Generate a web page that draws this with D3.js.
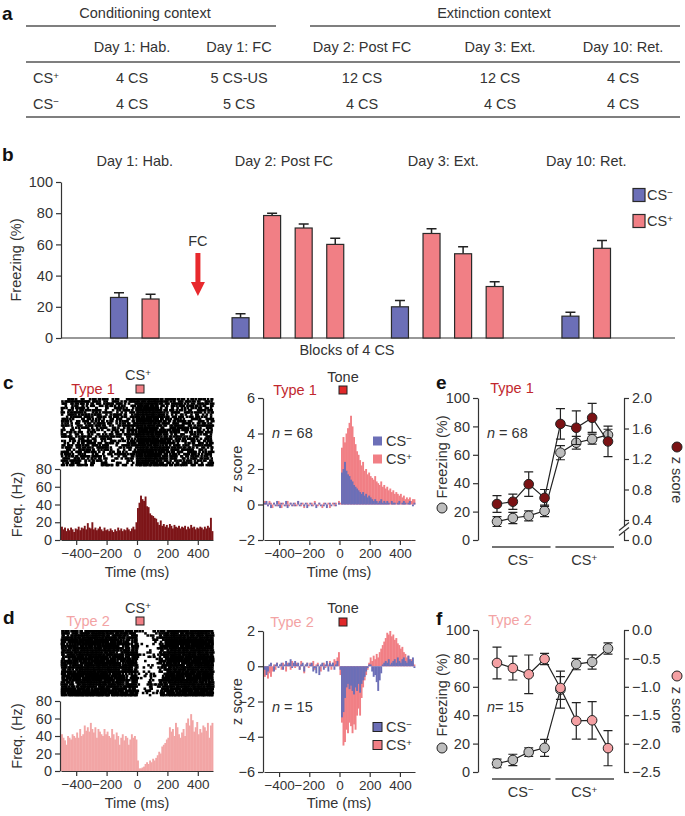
<!DOCTYPE html>
<html>
<head>
<meta charset="utf-8">
<script src="https://cdn.jsdelivr.net/npm/d3@7"></script>
<style>
  body { margin: 0; background: #fff; }
  svg text { font-family: "Liberation Sans", Arial, Helvetica, sans-serif; fill: #333; }
</style>
</head>
<body>
<div id="chart"></div>
<script>
// DATA

// a: protocol table
var tableDays = ["Day 1: Hab.", "Day 1: FC", "Day 2: Post FC", "Day 3: Ext.", "Day 10: Ret."];
var tableCSplus = ["4 CS", "5 CS-US", "12 CS", "12 CS", "4 CS"];
var tableCSminus = ["4 CS", "5 CS", "4 CS", "4 CS", "4 CS"];

// b: freezing per block of 4 CS
var bDays = ["Day 1: Hab.", "Day 2: Post FC", "Day 3: Ext.", "Day 10: Ret."];
var bMinus = [26, 13, 20, 14];
var bMinusErr = [3, 2.5, 4, 2.5];
var bPlus = [[25], [78.5, 70.5, 60], [67, 54, 33], [57.5]];
var bPlusErr = [[3], [1.5, 2.5, 4], [3, 4.5, 3], [5]];

// c, d: PSTH (Hz), 10 ms bins from -500 ms
var psthType1 = [
  15, 12, 14, 10, 13, 11, 14, 12, 9, 13,
  12, 15, 11, 14, 13, 16, 12, 19, 14, 13,
  20, 12, 14, 11, 13, 15, 12, 10, 14, 11,
  12, 10, 13, 11, 9, 12, 10, 14, 11, 13,
  10, 12, 11, 14, 12, 10, 13, 15, 12, 20,
  36, 42, 50, 46, 44, 49, 38, 37, 30, 28,
  27, 25, 24, 20, 17, 22, 16, 18, 15, 17,
  14, 18, 16, 13, 17, 15, 14, 16, 13, 15,
  14, 16, 12, 15, 13, 17, 14, 15, 12, 14,
  13, 15, 14, 12, 15, 13, 16, 14, 25, 10
];
var psthType2 = [
  42, 38, 35, 30, 40, 38, 36, 42, 40, 38,
  44, 38, 48, 40, 42, 52, 46, 50, 45, 55,
  48, 44, 50, 38, 48, 45, 42, 40, 48, 42,
  45, 40, 38, 48, 42, 36, 44, 40, 30, 38,
  42, 35, 40, 38, 30, 36, 42, 38, 40, 36,
  12, 3, 3, 4, 5, 8, 10, 8, 12, 10,
  14, 12, 15, 18, 22, 20, 28, 30, 32, 36,
  38, 50, 45, 48, 40, 55, 50, 42, 38, 44,
  48, 40, 55, 60, 52, 65, 58, 45, 50, 56,
  42, 48, 44, 52, 50, 46, 55, 38, 52, 55
];

// c, d: population z score, 10 ms bins from -500 ms
var zType1Plus = [
  0.2, 0.1, -0.1, 0.2, 0.1, -0.2, 0.1, 0.0, -0.1, 0.2,
  0.1, -0.2, 0.1, 0.0, -0.1, 0.2, -0.1, 0.1, 0.0, -0.1,
  0.1, -0.1, 0.2, 0.0, -0.1, 0.1, -0.2, 0.0, 0.1, -0.1,
  0.0, 0.1, -0.1, 0.2, 0.0, -0.1, 0.1, 0.0, -0.2, 0.1,
  0.0, -0.1, 0.1, -0.2, 0.0, 0.1, -0.1, 0.1, 0.0, 0.2,
  0.1, 3.2, 3.8, 3.5, 4.0, 4.3, 4.6, 5.0, 4.4, 3.8,
  3.4, 3.0, 2.8, 2.5, 2.2, 2.4, 1.9, 2.0, 1.7, 1.8,
  1.6, 1.5, 1.4, 1.6, 1.3, 1.2, 1.1, 1.3, 1.0, 1.1,
  0.9, 1.0, 0.8, 0.9, 0.7, 0.8, 0.6, 0.7, 0.6, 0.5,
  0.6, 0.4, 0.5, 0.3, 0.4, 0.3, 0.4, 0.2, 0.3, 0.3
];
var zType1Minus = [
  0.1, 0.2, -0.1, 0.1, -0.2, 0.0, 0.1, -0.1, 0.2, -0.1,
  -0.2, 0.1, 0.0, -0.1, 0.2, -0.2, 0.0, 0.1, -0.1, 0.1,
  -0.1, 0.0, 0.2, -0.1, 0.1, 0.0, -0.1, 0.1, -0.2, 0.0,
  0.1, -0.1, 0.0, 0.1, -0.2, 0.0, 0.1, -0.1, 0.0, -0.1,
  0.1, -0.2, 0.0, 0.1, -0.1, 0.0, 0.1, -0.1, 0.0, 0.1,
  0.0, 1.8, 2.0, 2.4, 1.9, 1.7, 1.6, 1.4, 1.3, 1.1,
  1.0, 0.9, 0.8, 0.7, 0.6, 0.7, 0.5, 0.6, 0.4, 0.5,
  0.4, 0.3, 0.2, 0.3, 0.2, 0.1, 0.2, 0.3, 0.1, 0.2,
  0.1, 0.2, 0.1, 0.0, 0.2, 0.1, 0.1, 0.0, 0.1, 0.2,
  0.0, 0.1, 0.2, 0.1, 0.0, 0.1, 0.2, 0.0, -0.1, 0.1
];
var zType2Plus = [
  -0.6, -0.5, -0.7, -0.4, -0.6, -0.3, 0.1, -0.2, 0.2, 0.0,
  0.1, -0.2, 0.2, 0.0, -0.3, 0.2, 0.1, -0.2, 0.3, 0.1,
  -0.1, 0.2, 0.1, -0.2, 0.3, 0.0, -0.4, 0.1, 0.2, -0.1,
  0.2, 0.1, 0.3, -0.2, 0.1, 0.2, 0.0, -0.3, 0.1, 0.2,
  -0.1, 0.2, 0.1, 0.3, -0.2, 0.2, 0.4, 0.3, 0.5, 0.8,
  -0.5, -3.2, -4.5, -4.3, -3.6, -3.8, -3.2, -3.4, -3.8, -3.3,
  -3.6, -2.8, -2.4, -2.8, -1.8, -1.2, -0.8, -0.5, -0.2, 0.2,
  0.5, 0.3, 0.6, 0.4, 0.7, 0.5, 0.8, 1.0, 1.2, 1.4,
  1.6, 1.9, 1.8, 2.0, 1.7, 1.8, 1.5, 1.6, 1.3, 1.2,
  1.0, 1.1, 0.8, 0.7, 0.5, 0.6, 0.3, 0.4, 0.2, 0.1
];
var zType2Minus = [
  -0.2, -0.5, -0.3, 0.1, 0.2, 0.0, -0.3, 0.1, 0.2, -0.1,
  0.1, 0.2, -0.2, 0.1, 0.3, 0.1, 0.2, 0.4, -0.1, 0.2,
  0.3, 0.1, 0.2, -0.2, 0.1, 0.2, -0.3, 0.1, 0.2, 0.0,
  0.1, 0.2, -0.3, -0.1, -0.4, 0.1, -0.5, 0.1, 0.2, -0.2,
  0.1, 0.3, -0.3, 0.2, 0.1, 0.2, -0.2, 0.1, 0.3, 0.0,
  -0.2, -2.9, -2.6, -1.8, -1.2, -1.0, -1.3, -1.1, -1.4, -1.6,
  -1.2, -1.4, -1.0, -1.5, -1.0, -0.8, -0.6, -0.3, -0.1, 0.1,
  0.1, -0.3, -0.6, -0.5, -0.9, -1.4, -0.8, -0.4, 0.1, 0.2,
  0.3, 0.2, 0.4, 0.1, 0.2, 0.3, 0.4, 0.2, 0.5, 0.3,
  0.2, 0.4, 0.5, 0.3, 0.2, 0.6, 0.4, 0.3, 0.5, -0.1
];

// e, f: freezing and z score per block (4 CS-, 4 CS+)
var eFreeze = [13, 15.5, 17, 20.5, 61.5, 68.5, 71, 74];
var eFreezeErr = [3.5, 4, 3.5, 4, 5, 4.5, 3.5, 4];
var eZ = [0.61, 0.64, 0.87, 0.69, 1.66, 1.61, 1.74, 1.43];
var eZErr = [0.11, 0.1, 0.16, 0.11, 0.2, 0.22, 0.19, 0.2];
var fFreeze = [6, 8.5, 14, 17, 58, 76, 77.5, 87];
var fFreezeErr = [3, 4, 3, 6, 13, 4, 5, 4];
var fZ = [-0.58, -0.67, -0.78, -0.51, -1.02, -1.6, -1.59, -2.08];
var fZErr = [0.28, 0.21, 0.34, 0.1, 0.2, 0.32, 0.33, 0.31];

var timeTicks = [-400, -200, 0, 200, 400];
var binStarts = d3.range(-500, 500, 10);

// COLOURS
var blue = "#6c6fb7",
  pink = "#f17f85",
  type1Red = "#c1272d",
  type2Pink = "#f3a3a4",
  psth1Col = "#7d1518",
  psth2Col = "#f2a5a5",
  toneRed = "#e0282a",
  greyDot = "#bdbdbd",
  darkDot = "#7a1214",
  pinkDot = "#f4a0a3",
  ink = "#333";

var FS = 14.5;

// FUNCTIONS

var svg = d3.select("#chart").append("svg").attr("width", 685).attr("height", 816);

function styleAxis(g, size) {
  g.attr("font-size", size || FS)
    .attr("font-family", "Liberation Sans, Arial, sans-serif")
    .attr("color", ink);
  g.selectAll("path, line").attr("stroke-width", 1.2);
}

function label(x, y, str, opts) {
  opts = opts || {};
  var t = svg.append("text")
    .attr("x", x)
    .attr("y", y)
    .attr("dy", "0.35em")
    .attr("font-size", opts.size || FS)
    .attr("text-anchor", opts.anchor || "middle")
    .text(str);
  if (opts.bold) t.attr("font-weight", "bold");
  if (opts.color) t.style("fill", opts.color);
  if (opts.rotate) t.attr("transform", "rotate(" + opts.rotate + "," + x + "," + y + ")");
  return t;
}

function csLabel(x, y, sign, opts) {
  opts = opts || {};
  var t = svg.append("text")
    .attr("x", x)
    .attr("y", y)
    .attr("dy", "0.35em")
    .attr("font-size", opts.size || FS)
    .attr("text-anchor", opts.anchor || "middle");
  t.append("tspan").text("CS");
  t.append("tspan").attr("dy", "-0.45em").attr("font-size", "0.68em").text(sign);
  return t;
}

function panelLetter(x, y, s) {
  label(x, y, s, { size: 19, bold: true, anchor: "start" }).style("fill", "#111");
}

// integer hash, used only to scatter raster ticks inside a bin
function scatter(a, b) {
  var h = Math.imul(a, 374761393) + Math.imul(b, 668265263);
  h = Math.imul(h ^ (h >>> 13), 1274126177);
  h ^= h >>> 16;
  return (h >>> 0) / 4294967296;
}

// a: table
panelLetter(2, 13, "a");
var colX = [132, 239, 362, 500, 623];
label(145, 13, "Conditioning context");
label(494, 13, "Extinction context");
var rule = function (x1, x2, y) {
  svg.append("line").attr("x1", x1).attr("x2", x2).attr("y1", y).attr("y2", y)
    .attr("stroke", "#555").attr("stroke-width", 1.5);
};
rule(26, 276, 26);
rule(310, 680, 26);
rule(26, 680, 62);
rule(26, 680, 117);
tableDays.forEach(function (d, i) {
  label(colX[i], 47, d);
  label(colX[i], 78, tableCSplus[i]);
  label(colX[i], 104, tableCSminus[i]);
});
csLabel(33, 78, "+", { anchor: "start" });
csLabel(33, 104, "\u2212", { anchor: "start" });

// b: bar chart
panelLetter(2, 154, "b");
var yB = d3.scaleLinear().domain([0, 100]).range([338, 182]);
var xB = d3.scaleLinear().domain([0, 15.3]).range([119, 602]);
var groupStart = [0, 3.85, 8.9, 14.3];
var barW = 17;

var gB = svg.append("g");
gB.append("g")
  .attr("transform", "translate(61,0)")
  .call(d3.axisLeft(yB).tickValues([0, 20, 40, 60, 80, 100]).tickSize(5).tickSizeOuter(0))
  .call(styleAxis);
gB.append("line").attr("x1", 61).attr("x2", 675).attr("y1", yB(0)).attr("y2", yB(0))
  .attr("stroke", ink).attr("stroke-width", 1.2);
label(16, 260, "Freezing (%)", { rotate: -90 });
label(347, 350, "Blocks of 4 CS");

var bBars = [];
bDays.forEach(function (day, i) {
  bBars.push({ pos: groupStart[i], v: bMinus[i], e: bMinusErr[i], c: blue });
  bPlus[i].forEach(function (v, j) {
    bBars.push({ pos: groupStart[i] + 1 + j, v: v, e: bPlusErr[i][j], c: pink });
  });
  var last = groupStart[i] + bPlus[i].length;
  label((xB(groupStart[i]) + xB(last)) / 2 - (bPlus[i].length > 1 ? 4 : 0), 161, day);
});

gB.selectAll(".errb").data(bBars).enter().append("path")
  .attr("d", function (d) {
    var x = xB(d.pos);
    return "M" + x + "," + yB(d.v) + "V" + yB(d.v + d.e) + "M" + (x - 5) + "," + yB(d.v + d.e) + "H" + (x + 5);
  })
  .attr("stroke", "#222").attr("stroke-width", 1.5).attr("fill", "none");
gB.selectAll(".bar").data(bBars).enter().append("rect")
  .attr("x", function (d) { return xB(d.pos) - barW / 2; })
  .attr("y", function (d) { return yB(d.v); })
  .attr("width", barW)
  .attr("height", function (d) { return yB(0) - yB(d.v); })
  .attr("fill", function (d) { return d.c; })
  .attr("stroke", "#2a2a2a").attr("stroke-width", 1.2);

// FC arrow
var fcX = xB(2.5);
label(fcX, 241, "FC");
svg.append("path")
  .attr("d", "M" + (fcX - 2.5) + ",253H" + (fcX + 2.5) + "V282H" + (fcX + 7) + "L" + fcX + ",296L" + (fcX - 7) + ",282H" + (fcX - 2.5) + "Z")
  .attr("fill", "#e8292d");

// legend b
[[blue, "\u2212", 195], [pink, "+", 221]].forEach(function (l) {
  svg.append("rect").attr("x", 633).attr("y", l[2] - 6.5).attr("width", 12).attr("height", 13)
    .attr("fill", l[0]).attr("stroke", "#2a2a2a").attr("stroke-width", 1.2);
  csLabel(647, l[2], l[1], { anchor: "start" });
});

// c, d left: raster + PSTH
function drawUnit(o) {
  var x = d3.scaleLinear().domain([-500, 500]).range([61, 213]);
  var y = d3.scaleLinear().domain([0, 80]).range([o.psthBottom, o.psthTop]);
  var binW = x(10) - x(0);

  label(o.typeX, o.typeY, o.typeText, { color: o.typeColor });
  csLabel(138, o.csY, "+");
  svg.append("rect").attr("x", 136).attr("y", o.typeY - 4).attr("width", 8).attr("height", 8)
    .attr("fill", pink).attr("stroke", "#222").attr("stroke-width", 1);

  // raster rows: dot density in each bin follows that bin's PSTH rate
  var nT = 31,
    rowH = (o.rasterBottom - o.rasterTop - 2) / nT,
    dots = [];
  o.rates.forEach(function (r, b) {
    var p = Math.min(1, r * o.factor / nT);
    for (var t = 0; t < nT; t++) {
      if (scatter(b + o.seed, t) < p) {
        dots.push({ t: binStarts[b], row: t, dx: scatter(t, b + 777) * 1.2 - 0.6 });
      }
    }
  });
  svg.append("g").selectAll("rect").data(dots).enter().append("rect")
    .attr("x", function (d) { return x(d.t) + d.dx; })
    .attr("y", function (d) { return o.rasterTop + d.row * rowH; })
    .attr("width", 2.6).attr("height", 2.5)
    .attr("fill", "#000");

  svg.append("g").selectAll("rect").data(o.rates).enter().append("rect")
    .attr("x", function (d, i) { return x(binStarts[i]); })
    .attr("y", function (d) { return y(d); })
    .attr("width", binW + 0.4)
    .attr("height", function (d) { return y(0) - y(d); })
    .attr("fill", o.psthColor);

  svg.append("g").attr("transform", "translate(60,0)")
    .call(d3.axisLeft(y).tickValues([0, 20, 40, 60, 80]).tickSize(5).tickSizeOuter(0))
    .call(styleAxis);
  svg.append("g").attr("transform", "translate(0," + o.psthBottom + ")")
    .call(d3.axisBottom(x).tickValues(timeTicks).tickSize(5).tickSizeOuter(0))
    .call(styleAxis, 13.5);
  label(17, (o.psthTop + o.psthBottom) / 2, "Freq. (Hz)", { rotate: -90 });
  label(137, o.timeY, "Time (ms)");
}

// c, d right: z score histograms
function drawZ(o) {
  var x = d3.scaleLinear().domain([-500, 500]).range([264, 415]);
  var y = d3.scaleLinear().domain(o.domain).range([o.bottom, o.top]);
  var binW = x(10) - x(0);

  label(o.typeX, o.typeY, o.typeText, { color: o.typeColor });
  label(343, o.toneY, "Tone");
  svg.append("rect").attr("x", 339).attr("y", o.typeY - 4).attr("width", 8).attr("height", 8)
    .attr("fill", toneRed).attr("stroke", "#222").attr("stroke-width", 1);

  [[o.plus, pink], [o.minus, blue]].forEach(function (s) {
    svg.append("g").selectAll("rect").data(s[0]).enter().append("rect")
      .attr("x", function (d, i) { return x(binStarts[i]); })
      .attr("y", function (d) { return y(Math.max(0, d)); })
      .attr("width", binW + 0.4)
      .attr("height", function (d) { return Math.abs(y(0) - y(d)); })
      .attr("fill", s[1]);
  });

  svg.append("g").attr("transform", "translate(263,0)")
    .call(d3.axisLeft(y).ticks(4).tickSize(5).tickSizeOuter(0))
    .call(styleAxis);
  svg.append("g").attr("transform", "translate(0," + o.bottom + ")")
    .call(d3.axisBottom(x).tickValues(timeTicks).tickSize(5).tickSizeOuter(0))
    .call(styleAxis, 13.5);

  var nt = label(272, o.nY, "", { anchor: "start" });
  nt.append("tspan").attr("font-style", "italic").text("n");
  nt.append("tspan").text(" = " + o.n);

  [[blue, "\u2212", o.legY], [pink, "+", o.legY + 18]].forEach(function (l) {
    var sq = svg.append("rect").attr("x", 373).attr("y", l[2] - 4.5).attr("width", 9).attr("height", 9)
      .attr("fill", l[0]);
    if (o.legStroke) sq.attr("stroke", "#222").attr("stroke-width", 1);
    csLabel(386, l[2], l[1], { anchor: "start" });
  });

  label(237, (o.top + o.bottom) / 2, "z score", { rotate: -90 });
  label(339, o.timeY, "Time (ms)");
}

// e, f: freezing vs z score
function drawBlocks(o) {
  var x = d3.scalePoint().domain(d3.range(8)).range([497, 608]);
  var y = d3.scaleLinear().domain([0, 100]).range([o.bottom, o.top]);
  var z = o.zScale;

  label(o.typeX, o.typeY, o.typeText, { color: o.typeColor });

  svg.append("g").attr("transform", "translate(478,0)")
    .call(d3.axisLeft(y).tickValues([0, 20, 40, 60, 80, 100]).tickSize(5).tickSizeOuter(0))
    .call(styleAxis);
  svg.append("g").attr("transform", "translate(624,0)")
    .call(d3.axisRight(z).tickValues(o.zTicks).tickFormat(d3.format(".1f")).tickSize(5).tickSizeOuter(0))
    .call(styleAxis);

  if (o.breakY) {
    svg.append("rect").attr("x", 620).attr("y", o.breakY - 3).attr("width", 8).attr("height", 6).attr("fill", "#fff");
    [-2.5, 2.5].forEach(function (dy) {
      svg.append("line").attr("x1", 619).attr("x2", 629)
        .attr("y1", o.breakY + dy + 4).attr("y2", o.breakY + dy - 4)
        .attr("stroke", ink).attr("stroke-width", 1.2);
    });
  }

  function series(vals, errs, sc, fill) {
    var pts = vals.map(function (v, i) { return { i: i, v: v, e: errs[i] }; });
    var g = svg.append("g");
    g.selectAll("path.err").data(pts).enter().append("path")
      .attr("d", function (d) {
        var cx = x(d.i), lo = sc(d.v - d.e), hi = sc(d.v + d.e);
        return "M" + cx + "," + lo + "V" + hi + "M" + (cx - 4.5) + "," + hi + "H" + (cx + 4.5) +
          "M" + (cx - 4.5) + "," + lo + "H" + (cx + 4.5);
      })
      .attr("stroke", "#222").attr("stroke-width", 1.2).attr("fill", "none");
    g.append("path")
      .attr("d", d3.line().x(function (d) { return x(d.i); }).y(function (d) { return sc(d.v); })(pts))
      .attr("stroke", "#222").attr("stroke-width", 1.2).attr("fill", "none");
    g.selectAll("circle").data(pts).enter().append("circle")
      .attr("cx", function (d) { return x(d.i); })
      .attr("cy", function (d) { return sc(d.v); })
      .attr("r", 4.8)
      .attr("fill", fill).attr("stroke", "#222").attr("stroke-width", 1);
  }
  series(o.freeze, o.freezeErr, y, greyDot);
  series(o.z, o.zErr, z, o.zColor);

  var nt = label(487, o.nY, "", { anchor: "start" });
  nt.append("tspan").attr("font-style", "italic").text("n");
  nt.append("tspan").text(o.nGap + o.n);

  // CS group underlines
  [[0, 3, "\u2212"], [4, 7, "+"]].forEach(function (g) {
    svg.append("line").attr("x1", x(g[0]) - 5).attr("x2", x(g[1]) + 6)
      .attr("y1", o.bottom + 7).attr("y2", o.bottom + 7)
      .attr("stroke", "#444").attr("stroke-width", 1.5);
    csLabel((x(g[0]) + x(g[1])) / 2, o.bottom + 20, g[2]);
  });

  // side legends
  label(442, o.freezeLabY, "Freezing (%)", { rotate: -90 });
  svg.append("circle").attr("cx", 442).attr("cy", o.freezeDotY).attr("r", 5)
    .attr("fill", greyDot).attr("stroke", "#222");
  label(677, o.zLabY, "z score", { rotate: 90 });
  svg.append("circle").attr("cx", 677).attr("cy", o.zDotY).attr("r", 5)
    .attr("fill", o.zColor).attr("stroke", "#222");
}

// c
panelLetter(3, 382, "c");
drawUnit({
  typeText: "Type 1", typeColor: type1Red, typeX: 93, typeY: 389, csY: 375,
  rasterTop: 398, rasterBottom: 468, psthTop: 469, psthBottom: 540,
  rates: psthType1, factor: 1.35, seed: 11, psthColor: psth1Col, timeY: 572
});
drawZ({
  typeText: "Type 1", typeColor: type1Red, typeX: 295, typeY: 390, toneY: 377,
  domain: [-2, 6], top: 398, bottom: 540, plus: zType1Plus, minus: zType1Minus,
  n: 68, nY: 433, legY: 441, legStroke: false, timeY: 572
});

// e
panelLetter(436, 382, "e");
drawBlocks({
  typeText: "Type 1", typeColor: type1Red, typeX: 512, typeY: 388,
  top: 398, bottom: 540,
  zScale: d3.scaleLinear().domain([0, 0.4, 2.0]).range([540, 520, 398]),
  zTicks: [0, 0.4, 0.8, 1.2, 1.6, 2.0], breakY: 529,
  freeze: eFreeze, freezeErr: eFreezeErr, z: eZ, zErr: eZErr, zColor: darkDot,
  n: 68, nGap: " = ", nY: 433,
  freezeLabY: 457, freezeDotY: 508, zLabY: 480, zDotY: 447
});

// d
panelLetter(3, 617, "d");
drawUnit({
  typeText: "Type 2", typeColor: type2Pink, typeX: 88, typeY: 621, csY: 608,
  rasterTop: 630, rasterBottom: 698, psthTop: 701, psthBottom: 771,
  rates: psthType2, factor: 0.72, seed: 503, psthColor: psth2Col, timeY: 803
});
drawZ({
  typeText: "Type 2", typeColor: type2Pink, typeX: 292, typeY: 622, toneY: 608,
  domain: [-6, 2], top: 631, bottom: 772, plus: zType2Plus, minus: zType2Minus,
  n: 15, nY: 707, legY: 727, legStroke: true, timeY: 803
});

// f
panelLetter(436, 618, "f");
drawBlocks({
  typeText: "Type 2", typeColor: type2Pink, typeX: 510, typeY: 620,
  top: 630, bottom: 772,
  zScale: d3.scaleLinear().domain([-2.5, 0]).range([772, 630]),
  zTicks: [0, -0.5, -1, -1.5, -2, -2.5], breakY: null,
  freeze: fFreeze, freezeErr: fFreezeErr, z: fZ, zErr: fZErr, zColor: pinkDot,
  n: 15, nGap: "= ", nY: 707,
  freezeLabY: 695, freezeDotY: 748, zLabY: 710, zDotY: 676
});
</script>
</body>
</html>
